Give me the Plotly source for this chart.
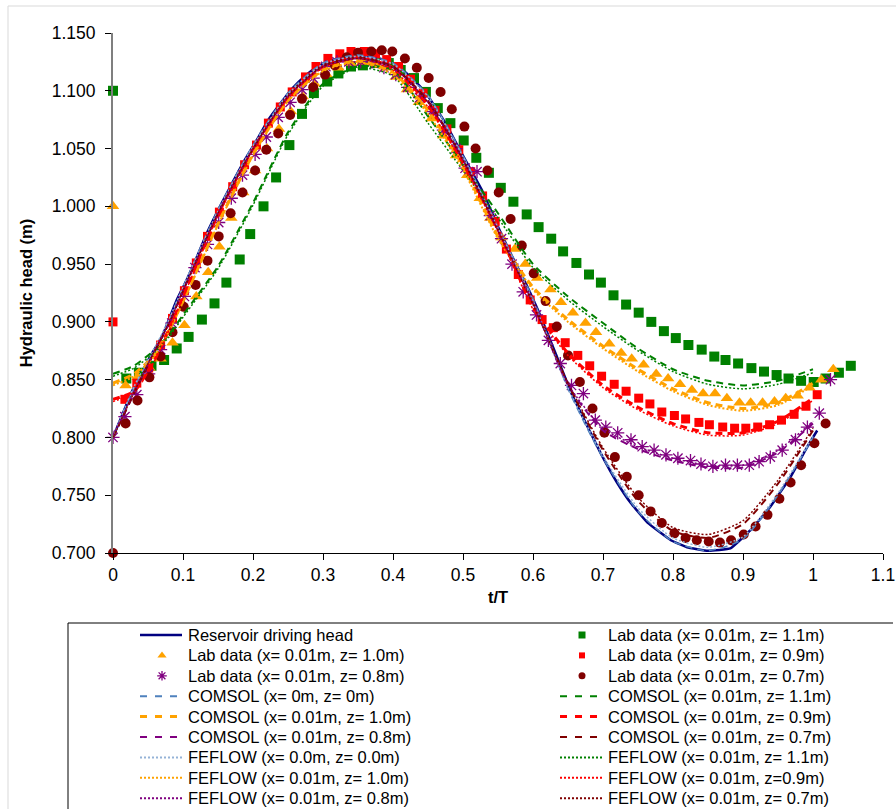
import plotly.graph_objects as go

# ---------------- data ----------------
# Reservoir driving head (t/T, head in m)
res_t = [0.000, 0.028, 0.053, 0.070, 0.091, 0.105, 0.119, 0.135, 0.152, 0.171,
         0.188, 0.205, 0.222, 0.239, 0.256, 0.275, 0.290, 0.310, 0.330, 0.350,
         0.370, 0.390, 0.408, 0.427, 0.447, 0.475, 0.498, 0.527, 0.551, 0.569,
         0.590, 0.608, 0.632, 0.655, 0.679, 0.697, 0.720, 0.740, 0.764, 0.797,
         0.820, 0.850, 0.882, 0.911, 0.939, 0.968, 0.992, 1.006]
res_h = [0.800, 0.841, 0.870, 0.887, 0.919, 0.936, 0.955, 0.978, 0.999, 1.021,
         1.040, 1.057, 1.075, 1.089, 1.102, 1.113, 1.120, 1.126, 1.130, 1.131,
         1.130, 1.126, 1.121, 1.111, 1.098, 1.072, 1.046, 1.014, 0.981, 0.958,
         0.933, 0.909, 0.873, 0.838, 0.808, 0.786, 0.761, 0.743, 0.726, 0.711,
         0.705, 0.702, 0.704, 0.720, 0.740, 0.766, 0.792, 0.806]

# Lab data, x = 0.01 m
lab11_t = [0.000, 0.019, 0.037, 0.055, 0.073, 0.091, 0.108, 0.127, 0.145, 0.162,
           0.181, 0.196, 0.215, 0.233, 0.252, 0.270, 0.287, 0.306, 0.322, 0.340,
           0.357, 0.374, 0.394, 0.411, 0.430, 0.447, 0.464, 0.482, 0.501, 0.519,
           0.537, 0.554, 0.572, 0.591, 0.608, 0.626, 0.643, 0.662, 0.680, 0.697,
           0.715, 0.733, 0.751, 0.769, 0.787, 0.804, 0.822, 0.841, 0.859, 0.875,
           0.893, 0.912, 0.930, 0.948, 0.965, 0.983, 1.001, 1.018, 1.037, 1.054]
lab11_h = [1.100, 0.851, 0.856, 0.862, 0.867, 0.877, 0.887, 0.902, 0.916, 0.934,
           0.954, 0.976, 1.000, 1.025, 1.053, 1.080, 1.098, 1.108, 1.115, 1.121,
           1.122, 1.124, 1.124, 1.118, 1.111, 1.099, 1.085, 1.072, 1.057, 1.042,
           1.029, 1.016, 1.004, 0.993, 0.982, 0.972, 0.961, 0.951, 0.941, 0.934,
           0.923, 0.915, 0.908, 0.900, 0.892, 0.886, 0.880, 0.876, 0.870, 0.867,
           0.864, 0.860, 0.857, 0.854, 0.851, 0.849, 0.848, 0.851, 0.856, 0.862]

lab10_t = [0.000, 0.018, 0.035, 0.052, 0.068, 0.085, 0.102, 0.119, 0.136, 0.152,
           0.169, 0.186, 0.203, 0.220, 0.237, 0.254, 0.271, 0.288, 0.305, 0.322,
           0.339, 0.356, 0.373, 0.390, 0.404, 0.420, 0.437, 0.455, 0.472, 0.490,
           0.506, 0.524, 0.539, 0.555, 0.574, 0.589, 0.606, 0.625, 0.640, 0.657,
           0.675, 0.690, 0.709, 0.726, 0.741, 0.758, 0.776, 0.793, 0.810, 0.827,
           0.843, 0.860, 0.877, 0.895, 0.911, 0.928, 0.945, 0.961, 0.978, 0.995,
           1.012, 1.029]
lab10_h = [1.000, 0.845, 0.852, 0.860, 0.868, 0.882, 0.897, 0.922, 0.943, 0.965,
           0.990, 1.012, 1.031, 1.050, 1.067, 1.082, 1.095, 1.106, 1.114, 1.120,
           1.124, 1.125, 1.124, 1.120, 1.112, 1.101, 1.090, 1.076, 1.061, 1.044,
           1.027, 1.007, 0.990, 0.973, 0.963, 0.950, 0.938, 0.928, 0.917, 0.908,
           0.899, 0.891, 0.881, 0.873, 0.868, 0.863, 0.855, 0.851, 0.846, 0.841,
           0.838, 0.838, 0.834, 0.830, 0.830, 0.830, 0.831, 0.834, 0.836, 0.843,
           0.850, 0.859]

lab09_t = [0.000, 0.017, 0.034, 0.051, 0.068, 0.085, 0.102, 0.119, 0.135, 0.152,
           0.171, 0.188, 0.205, 0.222, 0.239, 0.256, 0.275, 0.290, 0.307, 0.324,
           0.340, 0.359, 0.375, 0.391, 0.408, 0.425, 0.443, 0.460, 0.477, 0.494,
           0.511, 0.528, 0.546, 0.562, 0.579, 0.596, 0.613, 0.629, 0.646, 0.664,
           0.681, 0.698, 0.716, 0.733, 0.751, 0.767, 0.784, 0.802, 0.818, 0.837,
           0.852, 0.871, 0.888, 0.904, 0.921, 0.938, 0.955, 0.973, 0.990, 1.006]
lab09_h = [0.900, 0.833, 0.847, 0.860, 0.880, 0.903, 0.927, 0.951, 0.974, 0.995,
           1.017, 1.036, 1.053, 1.072, 1.086, 1.099, 1.112, 1.121, 1.128, 1.132,
           1.134, 1.134, 1.132, 1.127, 1.121, 1.110, 1.098, 1.083, 1.067, 1.049,
           1.030, 1.009, 0.987, 0.963, 0.941, 0.919, 0.902, 0.895, 0.882, 0.871,
           0.862, 0.853, 0.846, 0.840, 0.834, 0.829, 0.822, 0.819, 0.816, 0.813,
           0.811, 0.809, 0.808, 0.808, 0.809, 0.811, 0.815, 0.820, 0.827, 0.837]

lab08_t = [0.000, 0.017, 0.034, 0.051, 0.068, 0.084, 0.102, 0.117, 0.135, 0.151,
           0.169, 0.185, 0.203, 0.219, 0.236, 0.253, 0.270, 0.286, 0.304, 0.320,
           0.337, 0.354, 0.370, 0.387, 0.404, 0.421, 0.438, 0.455, 0.472, 0.490,
           0.503, 0.520, 0.539, 0.555, 0.570, 0.586, 0.605, 0.622, 0.639, 0.655,
           0.672, 0.689, 0.704, 0.721, 0.740, 0.756, 0.773, 0.790, 0.807, 0.825,
           0.840, 0.857, 0.875, 0.892, 0.909, 0.923, 0.939, 0.956, 0.975, 0.992,
           1.009, 1.025]
lab08_h = [0.800, 0.818, 0.837, 0.855, 0.876, 0.899, 0.922, 0.947, 0.967, 0.986,
           1.007, 1.027, 1.045, 1.060, 1.077, 1.090, 1.101, 1.111, 1.121, 1.125,
           1.125, 1.125, 1.125, 1.120, 1.114, 1.103, 1.094, 1.082, 1.066, 1.050,
           1.033, 1.030, 0.992, 0.972, 0.950, 0.926, 0.906, 0.884, 0.864, 0.845,
           0.838, 0.815, 0.809, 0.804, 0.798, 0.792, 0.789, 0.785, 0.782, 0.780,
           0.777, 0.775, 0.776, 0.776, 0.776, 0.779, 0.783, 0.789, 0.798, 0.809,
           0.821, 0.850]

lab07_t = [0.000, 0.018, 0.035, 0.052, 0.068, 0.085, 0.101, 0.118, 0.135, 0.151,
           0.168, 0.185, 0.203, 0.219, 0.236, 0.253, 0.270, 0.286, 0.303, 0.317,
           0.334, 0.350, 0.369, 0.384, 0.399, 0.417, 0.434, 0.451, 0.468, 0.484,
           0.502, 0.518, 0.535, 0.551, 0.568, 0.584, 0.601, 0.618, 0.634, 0.650,
           0.667, 0.685, 0.702, 0.717, 0.734, 0.751, 0.768, 0.784, 0.802, 0.818,
           0.834, 0.851, 0.867, 0.883, 0.901, 0.918, 0.935, 0.952, 0.968, 0.983,
           1.002, 1.018]
lab07_h = [0.700, 0.812, 0.832, 0.852, 0.870, 0.891, 0.913, 0.932, 0.953, 0.974,
           0.994, 1.012, 1.031, 1.049, 1.063, 1.079, 1.093, 1.103, 1.114, 1.122,
           1.129, 1.133, 1.134, 1.135, 1.134, 1.128, 1.120, 1.111, 1.099, 1.084,
           1.069, 1.050, 1.031, 1.012, 0.989, 0.966, 0.942, 0.918, 0.896, 0.871,
           0.848, 0.825, 0.804, 0.783, 0.766, 0.750, 0.736, 0.726, 0.717, 0.713,
           0.711, 0.710, 0.709, 0.711, 0.716, 0.723, 0.733, 0.747, 0.761, 0.776,
           0.795, 0.812]

# Numerical model output on a common time grid
model_t = [0.00, 0.03, 0.06, 0.08, 0.10, 0.15, 0.20, 0.25, 0.30, 0.35, 0.40, 0.45,
           0.50, 0.55, 0.60, 0.65, 0.70, 0.75, 0.80, 0.85, 0.90, 0.95, 1.00]

comsol_x0 = [0.800, 0.843, 0.877, 0.902, 0.930, 0.997, 1.053, 1.098, 1.124, 1.131, 1.124, 1.096,
             1.044, 0.982, 0.920, 0.842, 0.782, 0.736, 0.710, 0.702, 0.712, 0.750, 0.800]
comsol_11 = [0.855, 0.862, 0.876, 0.889, 0.906, 0.948, 1.003, 1.064, 1.106, 1.121, 1.118, 1.078,
             1.036, 0.994, 0.950, 0.922, 0.899, 0.877, 0.859, 0.849, 0.845, 0.849, 0.859]
comsol_10 = [0.847, 0.855, 0.872, 0.893, 0.918, 0.985, 1.045, 1.092, 1.118, 1.126, 1.116, 1.083,
             1.035, 0.974, 0.930, 0.902, 0.879, 0.859, 0.842, 0.830, 0.825, 0.830, 0.847]
comsol_09 = [0.833, 0.840, 0.868, 0.894, 0.922, 0.993, 1.050, 1.095, 1.121, 1.129, 1.120, 1.088,
             1.038, 0.980, 0.913, 0.873, 0.845, 0.826, 0.812, 0.804, 0.804, 0.814, 0.834]
comsol_08 = [0.800, 0.838, 0.875, 0.899, 0.927, 0.994, 1.050, 1.096, 1.122, 1.129, 1.121, 1.091,
             1.041, 0.980, 0.918, 0.845, 0.806, 0.790, 0.780, 0.774, 0.774, 0.787, 0.812]
comsol_07 = [0.800, 0.838, 0.875, 0.899, 0.927, 0.994, 1.050, 1.096, 1.122, 1.129, 1.121, 1.091,
             1.041, 0.980, 0.917, 0.846, 0.789, 0.745, 0.719, 0.713, 0.725, 0.760, 0.806]

feflow_x0 = [0.800, 0.844, 0.878, 0.902, 0.930, 0.996, 1.052, 1.097, 1.123, 1.130, 1.123, 1.095,
             1.043, 0.981, 0.918, 0.843, 0.784, 0.739, 0.713, 0.705, 0.714, 0.752, 0.801]
feflow_11 = [0.853, 0.860, 0.874, 0.887, 0.904, 0.946, 1.001, 1.062, 1.104, 1.120, 1.113, 1.072,
             1.031, 0.990, 0.947, 0.919, 0.896, 0.875, 0.857, 0.846, 0.842, 0.846, 0.856]
feflow_10 = [0.845, 0.853, 0.871, 0.892, 0.917, 0.984, 1.044, 1.091, 1.117, 1.125, 1.114, 1.080,
             1.032, 0.972, 0.928, 0.900, 0.877, 0.857, 0.840, 0.828, 0.823, 0.828, 0.845]
feflow_09 = [0.831, 0.839, 0.867, 0.893, 0.921, 0.992, 1.049, 1.094, 1.120, 1.128, 1.118, 1.086,
             1.036, 0.978, 0.911, 0.871, 0.843, 0.824, 0.810, 0.802, 0.802, 0.812, 0.832]
feflow_08 = [0.802, 0.839, 0.876, 0.899, 0.927, 0.994, 1.050, 1.095, 1.121, 1.128, 1.120, 1.090,
             1.040, 0.979, 0.916, 0.846, 0.808, 0.792, 0.782, 0.776, 0.776, 0.789, 0.814]
feflow_07 = [0.800, 0.839, 0.876, 0.899, 0.927, 0.994, 1.050, 1.095, 1.121, 1.128, 1.120, 1.090,
             1.040, 0.979, 0.915, 0.847, 0.791, 0.748, 0.722, 0.716, 0.728, 0.763, 0.808]

x_ticks = [0, 0.1, 0.2, 0.3, 0.4, 0.5, 0.6, 0.7, 0.8, 0.9, 1.0, 1.1]
y_ticks = [0.70, 0.75, 0.80, 0.85, 0.90, 0.95, 1.00, 1.05, 1.10, 1.15]

# ---------------- styling ----------------
NAVY, LBLUE, LBLUE2 = "#000080", "#4F81BD", "#95B3D7"
GREEN, ORANGE, RED, PURPLE, MAROON = "#008000", "#FFA200", "#FF0000", "#800080", "#800000"
FONT = "Liberation Sans, Arial, sans-serif"
TICK_SIZE, TEXT_SIZE = 17.5, 16.5
DASH_PLOT, DASH_KEY = "7px,5px", "7px,8px"
DOT = "2px,2px"

# Series in drawing / key order
series = [
    dict(name="Reservoir driving head", kind="line", t=res_t, h=res_h, color=NAVY, width=2.5, dash="solid", smooth=0.3),
    dict(name="Lab data (x= 0.01m, z= 1.1m)", kind="marker", t=lab11_t, h=lab11_h, color=GREEN, symbol="square", size=10),
    dict(name="Lab data (x= 0.01m, z= 1.0m)", kind="marker", t=lab10_t, h=lab10_h, color=ORANGE, symbol="triangle-up", size=11),
    dict(name="Lab data (x= 0.01m, z= 0.9m)", kind="marker", t=lab09_t, h=lab09_h, color=RED, symbol="square", size=9),
    dict(name="Lab data (x= 0.01m, z= 0.8m)", kind="marker", t=lab08_t, h=lab08_h, color=PURPLE, symbol="asterisk-open", size=11),
    dict(name="Lab data (x= 0.01m, z= 0.7m)", kind="marker", t=lab07_t, h=lab07_h, color=MAROON, symbol="circle", size=10),
    dict(name="COMSOL (x= 0m, z= 0m)", kind="line", t=model_t, h=comsol_x0, color=LBLUE, width=1.5, dash=DASH_PLOT, key=DASH_KEY, smooth=0.6),
    dict(name="COMSOL (x= 0.01m, z= 1.1m)", kind="line", t=model_t, h=comsol_11, color=GREEN, width=2, dash=DASH_PLOT, key=DASH_KEY, smooth=0.6),
    dict(name="COMSOL (x= 0.01m, z= 1.0m)", kind="line", t=model_t, h=comsol_10, color=ORANGE, width=3, dash=DASH_PLOT, key=DASH_KEY, smooth=0.6),
    dict(name="COMSOL (x= 0.01m, z= 0.9m)", kind="line", t=model_t, h=comsol_09, color=RED, width=3, dash=DASH_PLOT, key=DASH_KEY, smooth=0.6),
    dict(name="COMSOL (x= 0.01m, z= 0.8m)", kind="line", t=model_t, h=comsol_08, color=PURPLE, width=2, dash=DASH_PLOT, key=DASH_KEY, smooth=0.6),
    dict(name="COMSOL (x= 0.01m, z= 0.7m)", kind="line", t=model_t, h=comsol_07, color=MAROON, width=2, dash=DASH_PLOT, key=DASH_KEY, smooth=0.6),
    dict(name="FEFLOW (x= 0.0m, z= 0.0m)", kind="line", t=model_t, h=feflow_x0, color=LBLUE2, width=1.5, dash=DOT, key=DOT, smooth=0.6),
    dict(name="FEFLOW (x= 0.01m, z= 1.1m)", kind="line", t=model_t, h=feflow_11, color=GREEN, width=1.5, dash=DOT, key=DOT, smooth=0.6),
    dict(name="FEFLOW (x= 0.01m, z= 1.0m)", kind="line", t=model_t, h=feflow_10, color=ORANGE, width=2, dash=DOT, key=DOT, smooth=0.6),
    dict(name="FEFLOW (x= 0.01m, z=0.9m)", kind="line", t=model_t, h=feflow_09, color=RED, width=1.5, dash=DOT, key=DOT, smooth=0.6),
    dict(name="FEFLOW (x= 0.01m, z= 0.8m)", kind="line", t=model_t, h=feflow_08, color=PURPLE, width=1.5, dash=DOT, key=DOT, smooth=0.6),
    dict(name="FEFLOW (x= 0.01m, z= 0.7m)", kind="line", t=model_t, h=feflow_07, color=MAROON, width=1.5, dash=DOT, key=DOT, smooth=0.6),
]

for s in series:
    if len(s["t"]) != len(s["h"]):
        raise ValueError(f"length mismatch in {s['name']}")


def marker_style(s, size):
    if s["symbol"] == "asterisk-open":
        return dict(symbol=s["symbol"], size=size, color=s["color"],
                    line=dict(color=s["color"], width=1.3))
    return dict(symbol=s["symbol"], size=size, color=s["color"], line=dict(width=0))


fig = go.Figure()

# main chart
for s in series:
    if s["kind"] == "line":
        fig.add_trace(go.Scatter(
            x=s["t"], y=s["h"], mode="lines", name=s["name"], showlegend=False,
            line=dict(color=s["color"], width=s["width"], dash=s["dash"],
                      shape="spline", smoothing=s["smooth"]),
            xaxis="x", yaxis="y"))
    else:
        fig.add_trace(go.Scatter(
            x=s["t"], y=s["h"], mode="markers", name=s["name"], showlegend=False,
            marker=marker_style(s, s["size"]), cliponaxis=False,
            xaxis="x", yaxis="y"))

# key block below the chart, laid out on a pixel-space overlay (two columns)
W, H = 896, 809
KEY_TOP, ROW, COL = 635, 20.4, 420
KEY_X0, KEY_LEN, TEXT_GAP = 140, 42, 46
annotations = []
for k, s in enumerate(series):
    row, col = divmod(k, 2)
    ky = KEY_TOP + ROW * row
    kx = KEY_X0 + COL * col
    if s["kind"] == "line":
        fig.add_trace(go.Scatter(
            x=[kx, kx + KEY_LEN], y=[ky, ky], mode="lines", showlegend=False, hoverinfo="skip",
            line=dict(color=s["color"], width=max(s["width"], 2) if s["dash"] != DOT else 2,
                      dash=s.get("key", "solid")),
            xaxis="x2", yaxis="y2"))
    else:
        fig.add_trace(go.Scatter(
            x=[kx + 22], y=[ky], mode="markers", showlegend=False, hoverinfo="skip",
            marker=marker_style(s, s["size"] - 3), xaxis="x2", yaxis="y2"))
    annotations.append(dict(
        x=kx + TEXT_GAP, y=ky, xref="x2", yref="y2", text=s["name"], showarrow=False,
        xanchor="left", yanchor="middle", font=dict(family=FONT, size=TEXT_SIZE, color="black")))

PLOT_L, PLOT_R, PLOT_T, PLOT_B = 113, 883, 33, 553

fig.update_layout(
    width=W, height=H,
    margin=dict(l=0, r=0, t=0, b=0, autoexpand=False),
    paper_bgcolor="white", plot_bgcolor="rgba(0,0,0,0)",
    showlegend=False,
    font=dict(family=FONT, size=TEXT_SIZE, color="black"),
    xaxis=dict(
        domain=[PLOT_L / W, PLOT_R / W], anchor="y",
        range=[0, 1.1], tickvals=x_ticks, ticktext=[f"{v:g}" for v in x_ticks],
        showline=True, linecolor="black", linewidth=1.2,
        ticks="outside", ticklen=6, tickcolor="black", tickwidth=1.2,
        ticklabeloverflow="allow",
        showgrid=False, zeroline=False,
        tickfont=dict(family=FONT, size=TICK_SIZE, color="black"),
        title=dict(text="<b>t/T</b>", standoff=7, font=dict(family=FONT, size=TEXT_SIZE, color="black")),
    ),
    yaxis=dict(
        domain=[1 - PLOT_B / H, 1 - PLOT_T / H], anchor="x",
        range=[0.7, 1.15], tickvals=y_ticks, ticktext=[f"{v:.3f}" for v in y_ticks],
        showline=True, linecolor="#7F7F7F", linewidth=2,
        ticks="outside", ticklen=6, tickcolor="black", tickwidth=1.2,
        ticklabelstandoff=6, ticklabeloverflow="allow",
        showgrid=False, zeroline=False,
        tickfont=dict(family=FONT, size=TICK_SIZE, color="black"),
        title=dict(text="<b>Hydraulic head (m)</b>", standoff=15,
                   font=dict(family=FONT, size=TEXT_SIZE, color="black")),
    ),
    xaxis2=dict(domain=[0, 1], anchor="y2", range=[0, W], visible=False, fixedrange=True),
    yaxis2=dict(domain=[0, 1], anchor="x2", range=[H, 0], visible=False, fixedrange=True),
    annotations=annotations,
    shapes=[
        # chart area frame
        dict(type="line", xref="x2", yref="y2", x0=8, x1=W, y0=6, y1=6,
             line=dict(color="#D9D9D9", width=1)),
        dict(type="line", xref="x2", yref="y2", x0=8, x1=8, y0=6, y1=H,
             line=dict(color="#D9D9D9", width=1)),
        # key box
        dict(type="line", xref="x2", yref="y2", x0=68, x1=893, y0=623, y1=623,
             line=dict(color="black", width=1)),
        dict(type="line", xref="x2", yref="y2", x0=68, x1=68, y0=623, y1=H,
             line=dict(color="black", width=1)),
    ],
)

fig.write_html("out.html")
